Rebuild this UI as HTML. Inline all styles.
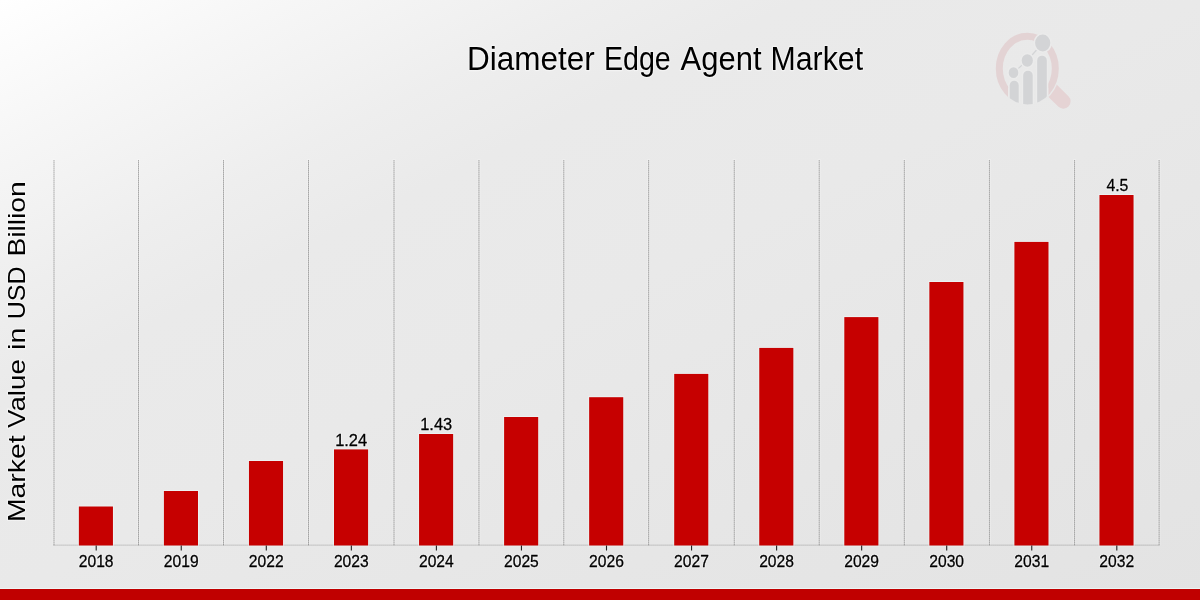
<!DOCTYPE html><html><head><meta charset="utf-8"><title>Diameter Edge Agent Market</title>
<style>html,body{margin:0;padding:0;background:#e8e8e8;}body{width:1200px;height:600px;overflow:hidden;position:relative;font-family:"Liberation Sans",sans-serif;}svg{position:absolute;left:0;top:0;display:block}text{font-family:"Liberation Sans",sans-serif;fill:#000;opacity:0.999;stroke:none}g.sm text{stroke:#000;stroke-width:0.3px}g.sm text.h,text.h{fill:none;stroke:#fff;stroke-opacity:0.42;stroke-width:2.3px;stroke-linejoin:round}</style></head><body>
<svg width="1200" height="600" viewBox="0 0 1200 600">
<defs>
<linearGradient id="bg" gradientUnits="userSpaceOnUse" x1="0" y1="0" x2="480" y2="960"><stop offset="0" stop-color="#ffffff"/><stop offset="0.125" stop-color="#f6f6f6"/><stop offset="0.25" stop-color="#eeeeee"/><stop offset="0.333" stop-color="#eaeaea"/><stop offset="0.5" stop-color="#e9e9e9"/><stop offset="0.733" stop-color="#e6e6e6"/><stop offset="1" stop-color="#e3e3e3"/></linearGradient>
</defs>
<rect x="0" y="0" width="1200" height="600" fill="url(#bg)"/>
<g fill="none" stroke="#fff" stroke-width="3" stroke-opacity="0.22">
<line x1="54.00" y1="159" x2="54.00" y2="545.5"/>
<line x1="138.50" y1="159" x2="138.50" y2="545.5"/>
<line x1="223.50" y1="159" x2="223.50" y2="545.5"/>
<line x1="308.50" y1="159" x2="308.50" y2="545.5"/>
<line x1="394.00" y1="159" x2="394.00" y2="545.5"/>
<line x1="478.94" y1="159" x2="478.94" y2="545.5"/>
<line x1="563.80" y1="159" x2="563.80" y2="545.5"/>
<line x1="648.65" y1="159" x2="648.65" y2="545.5"/>
<line x1="734.25" y1="159" x2="734.25" y2="545.5"/>
<line x1="819.20" y1="159" x2="819.20" y2="545.5"/>
<line x1="904.30" y1="159" x2="904.30" y2="545.5"/>
<line x1="989.40" y1="159" x2="989.40" y2="545.5"/>
<line x1="1074.60" y1="159" x2="1074.60" y2="545.5"/>
<line x1="1159.10" y1="159" x2="1159.10" y2="545.5"/>
</g>
<g fill="none" stroke="#000" stroke-width="1">
<line x1="54.00" y1="160" x2="54.00" y2="545.5" stroke-opacity="0.20"/>
<line x1="54.00" y1="160" x2="54.00" y2="545.5" stroke-opacity="0.13" stroke-dasharray="1 1"/>
<line x1="138.50" y1="160" x2="138.50" y2="545.5" stroke-opacity="0.20"/>
<line x1="138.50" y1="160" x2="138.50" y2="545.5" stroke-opacity="0.13" stroke-dasharray="1 1"/>
<line x1="223.50" y1="160" x2="223.50" y2="545.5" stroke-opacity="0.20"/>
<line x1="223.50" y1="160" x2="223.50" y2="545.5" stroke-opacity="0.13" stroke-dasharray="1 1"/>
<line x1="308.50" y1="160" x2="308.50" y2="545.5" stroke-opacity="0.20"/>
<line x1="308.50" y1="160" x2="308.50" y2="545.5" stroke-opacity="0.13" stroke-dasharray="1 1"/>
<line x1="394.00" y1="160" x2="394.00" y2="545.5" stroke-opacity="0.20"/>
<line x1="394.00" y1="160" x2="394.00" y2="545.5" stroke-opacity="0.13" stroke-dasharray="1 1"/>
<line x1="478.94" y1="160" x2="478.94" y2="545.5" stroke-opacity="0.20"/>
<line x1="478.94" y1="160" x2="478.94" y2="545.5" stroke-opacity="0.13" stroke-dasharray="1 1"/>
<line x1="563.80" y1="160" x2="563.80" y2="545.5" stroke-opacity="0.20"/>
<line x1="563.80" y1="160" x2="563.80" y2="545.5" stroke-opacity="0.13" stroke-dasharray="1 1"/>
<line x1="648.65" y1="160" x2="648.65" y2="545.5" stroke-opacity="0.20"/>
<line x1="648.65" y1="160" x2="648.65" y2="545.5" stroke-opacity="0.13" stroke-dasharray="1 1"/>
<line x1="734.25" y1="160" x2="734.25" y2="545.5" stroke-opacity="0.20"/>
<line x1="734.25" y1="160" x2="734.25" y2="545.5" stroke-opacity="0.13" stroke-dasharray="1 1"/>
<line x1="819.20" y1="160" x2="819.20" y2="545.5" stroke-opacity="0.20"/>
<line x1="819.20" y1="160" x2="819.20" y2="545.5" stroke-opacity="0.13" stroke-dasharray="1 1"/>
<line x1="904.30" y1="160" x2="904.30" y2="545.5" stroke-opacity="0.20"/>
<line x1="904.30" y1="160" x2="904.30" y2="545.5" stroke-opacity="0.13" stroke-dasharray="1 1"/>
<line x1="989.40" y1="160" x2="989.40" y2="545.5" stroke-opacity="0.20"/>
<line x1="989.40" y1="160" x2="989.40" y2="545.5" stroke-opacity="0.13" stroke-dasharray="1 1"/>
<line x1="1074.60" y1="160" x2="1074.60" y2="545.5" stroke-opacity="0.20"/>
<line x1="1074.60" y1="160" x2="1074.60" y2="545.5" stroke-opacity="0.13" stroke-dasharray="1 1"/>
<line x1="1159.10" y1="160" x2="1159.10" y2="545.5" stroke-opacity="0.20"/>
<line x1="1159.10" y1="160" x2="1159.10" y2="545.5" stroke-opacity="0.13" stroke-dasharray="1 1"/>
<line x1="53.45" y1="545.15" x2="1159.58" y2="545.15" stroke-opacity="0.10"/>
<line x1="53.45" y1="545.15" x2="1159.58" y2="545.15" stroke-opacity="0.12" stroke-dasharray="1 1"/>
</g>
<g fill="#c60000" stroke="#f4ffff" stroke-opacity="0.38" stroke-width="2" paint-order="stroke">
<rect x="78.85" y="506.50" width="34.1" height="39.00"/>
<rect x="163.90" y="491.00" width="34.1" height="54.50"/>
<rect x="248.95" y="461.00" width="34.1" height="84.50"/>
<rect x="334.00" y="449.40" width="34.1" height="96.10"/>
<rect x="419.05" y="434.00" width="34.1" height="111.50"/>
<rect x="504.10" y="417.00" width="34.1" height="128.50"/>
<rect x="589.15" y="397.20" width="34.1" height="148.30"/>
<rect x="674.20" y="373.90" width="34.1" height="171.60"/>
<rect x="759.25" y="347.90" width="34.1" height="197.60"/>
<rect x="844.30" y="317.10" width="34.1" height="228.40"/>
<rect x="929.35" y="282.00" width="34.1" height="263.50"/>
<rect x="1014.40" y="241.90" width="34.1" height="303.60"/>
<rect x="1099.45" y="195.00" width="34.1" height="350.50"/>
</g>
<g stroke="#222" stroke-width="1.1">
<line x1="96.20" y1="545.5" x2="96.20" y2="550.5"/>
<line x1="181.25" y1="545.5" x2="181.25" y2="550.5"/>
<line x1="266.30" y1="545.5" x2="266.30" y2="550.5"/>
<line x1="351.35" y1="545.5" x2="351.35" y2="550.5"/>
<line x1="436.40" y1="545.5" x2="436.40" y2="550.5"/>
<line x1="521.45" y1="545.5" x2="521.45" y2="550.5"/>
<line x1="606.50" y1="545.5" x2="606.50" y2="550.5"/>
<line x1="691.55" y1="545.5" x2="691.55" y2="550.5"/>
<line x1="776.60" y1="545.5" x2="776.60" y2="550.5"/>
<line x1="861.65" y1="545.5" x2="861.65" y2="550.5"/>
<line x1="946.70" y1="545.5" x2="946.70" y2="550.5"/>
<line x1="1031.75" y1="545.5" x2="1031.75" y2="550.5"/>
<line x1="1116.80" y1="545.5" x2="1116.80" y2="550.5"/>
</g>
<g class="sm">
<text class="h" x="96.15" y="567.2" font-size="16.6" text-anchor="middle" textLength="34.800000000000004" lengthAdjust="spacingAndGlyphs">2018</text>
<text x="96.15" y="567.2" font-size="16.6" text-anchor="middle" textLength="34.800000000000004" lengthAdjust="spacingAndGlyphs">2018</text>
<text class="h" x="181.20" y="567.2" font-size="16.6" text-anchor="middle" textLength="34.800000000000004" lengthAdjust="spacingAndGlyphs">2019</text>
<text x="181.20" y="567.2" font-size="16.6" text-anchor="middle" textLength="34.800000000000004" lengthAdjust="spacingAndGlyphs">2019</text>
<text class="h" x="266.25" y="567.2" font-size="16.6" text-anchor="middle" textLength="34.800000000000004" lengthAdjust="spacingAndGlyphs">2022</text>
<text x="266.25" y="567.2" font-size="16.6" text-anchor="middle" textLength="34.800000000000004" lengthAdjust="spacingAndGlyphs">2022</text>
<text class="h" x="351.30" y="567.2" font-size="16.6" text-anchor="middle" textLength="34.800000000000004" lengthAdjust="spacingAndGlyphs">2023</text>
<text x="351.30" y="567.2" font-size="16.6" text-anchor="middle" textLength="34.800000000000004" lengthAdjust="spacingAndGlyphs">2023</text>
<text class="h" x="436.35" y="567.2" font-size="16.6" text-anchor="middle" textLength="34.800000000000004" lengthAdjust="spacingAndGlyphs">2024</text>
<text x="436.35" y="567.2" font-size="16.6" text-anchor="middle" textLength="34.800000000000004" lengthAdjust="spacingAndGlyphs">2024</text>
<text class="h" x="521.40" y="567.2" font-size="16.6" text-anchor="middle" textLength="34.800000000000004" lengthAdjust="spacingAndGlyphs">2025</text>
<text x="521.40" y="567.2" font-size="16.6" text-anchor="middle" textLength="34.800000000000004" lengthAdjust="spacingAndGlyphs">2025</text>
<text class="h" x="606.45" y="567.2" font-size="16.6" text-anchor="middle" textLength="34.800000000000004" lengthAdjust="spacingAndGlyphs">2026</text>
<text x="606.45" y="567.2" font-size="16.6" text-anchor="middle" textLength="34.800000000000004" lengthAdjust="spacingAndGlyphs">2026</text>
<text class="h" x="691.50" y="567.2" font-size="16.6" text-anchor="middle" textLength="34.800000000000004" lengthAdjust="spacingAndGlyphs">2027</text>
<text x="691.50" y="567.2" font-size="16.6" text-anchor="middle" textLength="34.800000000000004" lengthAdjust="spacingAndGlyphs">2027</text>
<text class="h" x="776.55" y="567.2" font-size="16.6" text-anchor="middle" textLength="34.800000000000004" lengthAdjust="spacingAndGlyphs">2028</text>
<text x="776.55" y="567.2" font-size="16.6" text-anchor="middle" textLength="34.800000000000004" lengthAdjust="spacingAndGlyphs">2028</text>
<text class="h" x="861.60" y="567.2" font-size="16.6" text-anchor="middle" textLength="34.800000000000004" lengthAdjust="spacingAndGlyphs">2029</text>
<text x="861.60" y="567.2" font-size="16.6" text-anchor="middle" textLength="34.800000000000004" lengthAdjust="spacingAndGlyphs">2029</text>
<text class="h" x="946.65" y="567.2" font-size="16.6" text-anchor="middle" textLength="34.800000000000004" lengthAdjust="spacingAndGlyphs">2030</text>
<text x="946.65" y="567.2" font-size="16.6" text-anchor="middle" textLength="34.800000000000004" lengthAdjust="spacingAndGlyphs">2030</text>
<text class="h" x="1031.70" y="567.2" font-size="16.6" text-anchor="middle" textLength="34.800000000000004" lengthAdjust="spacingAndGlyphs">2031</text>
<text x="1031.70" y="567.2" font-size="16.6" text-anchor="middle" textLength="34.800000000000004" lengthAdjust="spacingAndGlyphs">2031</text>
<text class="h" x="1116.75" y="567.2" font-size="16.6" text-anchor="middle" textLength="34.800000000000004" lengthAdjust="spacingAndGlyphs">2032</text>
<text x="1116.75" y="567.2" font-size="16.6" text-anchor="middle" textLength="34.800000000000004" lengthAdjust="spacingAndGlyphs">2032</text>
<text class="h" x="351.15" y="446" font-size="17.0" text-anchor="middle" textLength="32.0" lengthAdjust="spacingAndGlyphs">1.24</text>
<text x="351.15" y="446" font-size="17.0" text-anchor="middle" textLength="32.0" lengthAdjust="spacingAndGlyphs">1.24</text>
<text class="h" x="436.20" y="430" font-size="17.0" text-anchor="middle" textLength="32.0" lengthAdjust="spacingAndGlyphs">1.43</text>
<text x="436.20" y="430" font-size="17.0" text-anchor="middle" textLength="32.0" lengthAdjust="spacingAndGlyphs">1.43</text>
<text class="h" x="1117.40" y="191" font-size="17.0" text-anchor="middle" textLength="22.0" lengthAdjust="spacingAndGlyphs">4.5</text>
<text x="1117.40" y="191" font-size="17.0" text-anchor="middle" textLength="22.0" lengthAdjust="spacingAndGlyphs">4.5</text>
</g>
<g font-size="33.3">
<text class="h" x="467.10" y="69.8" textLength="127.67" lengthAdjust="spacingAndGlyphs">Diameter</text>
<text x="467.10" y="69.8" textLength="127.67" lengthAdjust="spacingAndGlyphs">Diameter</text>
<text class="h" x="603.93" y="69.8" textLength="66.85" lengthAdjust="spacingAndGlyphs">Edge</text>
<text x="603.93" y="69.8" textLength="66.85" lengthAdjust="spacingAndGlyphs">Edge</text>
<text class="h" x="680.49" y="69.8" textLength="81.02" lengthAdjust="spacingAndGlyphs">Agent</text>
<text x="680.49" y="69.8" textLength="81.02" lengthAdjust="spacingAndGlyphs">Agent</text>
<text class="h" x="770.55" y="69.8" textLength="92.56" lengthAdjust="spacingAndGlyphs">Market</text>
<text x="770.55" y="69.8" textLength="92.56" lengthAdjust="spacingAndGlyphs">Market</text>
</g>
<g font-size="23.6" transform="translate(25.0,519.5) rotate(-90)">
<text class="h" x="-2.60" y="0" textLength="86.64" lengthAdjust="spacingAndGlyphs">Market</text>
<text x="-2.60" y="0" textLength="86.64" lengthAdjust="spacingAndGlyphs">Market</text>
<text class="h" x="91.46" y="0" textLength="68.86" lengthAdjust="spacingAndGlyphs">Value</text>
<text x="91.46" y="0" textLength="68.86" lengthAdjust="spacingAndGlyphs">Value</text>
<text class="h" x="169.61" y="0" textLength="22.34" lengthAdjust="spacingAndGlyphs">in</text>
<text x="169.61" y="0" textLength="22.34" lengthAdjust="spacingAndGlyphs">in</text>
<text class="h" x="200.29" y="0" textLength="52.85" lengthAdjust="spacingAndGlyphs">USD</text>
<text x="200.29" y="0" textLength="52.85" lengthAdjust="spacingAndGlyphs">USD</text>
<text class="h" x="262.90" y="0" textLength="75.38" lengthAdjust="spacingAndGlyphs">Billion</text>
<text x="262.90" y="0" textLength="75.38" lengthAdjust="spacingAndGlyphs">Billion</text>
</g>
<g id="logo">
<defs>
<clipPath id="lc"><ellipse cx="1027.3" cy="68.6" rx="31.4" ry="35.8"/></clipPath>
<mask id="lm" maskUnits="userSpaceOnUse" x="980" y="20" width="120" height="110"><rect x="980" y="20" width="120" height="110" fill="#fff"/><ellipse cx="1027.3" cy="68.6" rx="32.9" ry="37.3" fill="#000"/></mask>
<mask id="rm" maskUnits="userSpaceOnUse" x="980" y="20" width="120" height="110"><rect x="980" y="20" width="120" height="110" fill="#fff"/><rect x="1008.2" y="88" width="40.1" height="20" fill="#000"/></mask>
</defs>
<ellipse cx="1027.3" cy="68.6" rx="28" ry="32.3" fill="none" stroke="#e3d3d4" stroke-width="7" mask="url(#rm)"/>
<line x1="1046" y1="84.3" x2="1063.3" y2="101.4" stroke="#e5d3d4" stroke-width="14.6" stroke-linecap="round" mask="url(#lm)"/>
<g clip-path="url(#lc)">
<g fill="#ebebeb" stroke="#ebebeb" stroke-width="3">
<rect x="1009.7" y="80.8" width="9" height="40" rx="4.5"/>
<rect x="1023.2" y="70.7" width="9.5" height="50" rx="4.75"/>
<rect x="1037.2" y="55.7" width="9.6" height="60" rx="4.8"/>
</g>
<g fill="#d3d4d6">
<rect x="1009.7" y="80.8" width="9" height="40" rx="4.5"/>
<rect x="1023.2" y="70.7" width="9.5" height="50" rx="4.75"/>
<rect x="1037.2" y="55.7" width="9.6" height="60" rx="4.8"/>
</g>
</g>
<polyline points="1013.5,72.7 1027.3,60.5 1042.7,43" fill="none" stroke="#d3d4d6" stroke-width="1.2"/>
<g fill="#d3d4d6" stroke="#ebebeb" stroke-width="1.6">
<ellipse cx="1013.5" cy="72.7" rx="5.6" ry="6.2"/>
<ellipse cx="1027.3" cy="60.5" rx="6.4" ry="7"/>
<ellipse cx="1042.7" cy="43" rx="8.4" ry="9.3"/>
</g>
</g>

<rect x="0" y="588" width="1200" height="1" fill="#f0ffff" fill-opacity="0.6"/>
<rect x="0" y="589" width="1200" height="11" fill="#c00000"/>
</svg></body></html>
